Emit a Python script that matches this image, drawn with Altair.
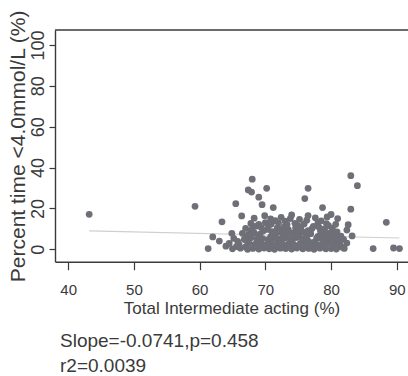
import altair as alt
import pandas as pd

# ---- data ----
x_vals = [
    # isolated / upper points
    43.2, 59.3, 61.3, 63.4, 62.0, 63.0, 64.0, 64.9, 65.5, 66.4, 67.4, 67.9, 68.0,
    69.0, 69.5, 70.2, 71.2, 76.0, 76.5, 76.5, 78.7, 80.0, 81.0, 83.0, 84.0, 83.0,
    82.6, 82.4, 83.2, 82.4, 86.4, 88.4, 89.5, 90.4, 74.0,
    # bottom row
    65.0, 66.2, 67.3, 68.1, 69.0, 69.8, 70.6, 71.4, 72.3, 73.1, 74.0, 74.8, 75.7,
    76.6, 77.4, 78.3, 79.2, 80.0, 80.8, 82.0,
    # row ~1.3
    65.6, 67.0, 68.6, 70.2, 71.8, 73.4, 75.0, 76.9, 78.6, 80.4, 81.6,
    # row ~2.5
    64.5, 66.0, 67.5, 68.4, 69.3, 70.1, 71.0, 71.9, 72.7, 73.6, 74.4, 75.3, 76.1,
    77.0, 77.9, 78.8, 79.6, 80.5, 81.3,
    # row ~3.8
    65.8, 67.2, 69.0, 70.7, 72.4, 74.1, 75.9, 77.5, 79.2, 80.9,
    # row ~5
    65.2, 66.8, 67.8, 68.7, 69.6, 70.4, 71.3, 72.1, 73.0, 73.9, 74.7, 75.6, 76.4,
    77.8, 78.6, 79.5, 80.3, 81.1, 81.9,
    # row ~6.3
    67.0, 68.9, 70.8, 72.8, 74.5, 76.2, 78.0, 79.9, 81.5,
    # row ~7.5
    66.5, 67.4, 68.3, 69.2, 71.6, 72.5, 73.4, 74.2, 75.1, 76.0, 76.9, 78.9, 79.8, 80.6,
    # row ~8.8
    67.8, 69.7, 71.0, 73.0, 74.9, 76.5, 78.4, 80.9,
    # row ~10
    67.0, 68.0, 69.4, 70.3, 71.8, 72.6, 73.5, 74.6, 75.4, 77.1, 78.2, 79.0, 80.2,
    # row ~11.3
    68.6, 70.5, 72.9, 75.0, 77.3, 79.6,
    # row ~12.5
    67.8, 69.0, 70.0, 70.9, 72.0, 73.3, 74.5, 75.9, 78.0, 79.3, 80.7,
    # row ~14
    71.5, 73.0, 76.3, 78.5,
    # row ~15
    68.3, 69.9, 70.8, 72.4, 73.8, 75.2, 77.6, 79.4,
]
y_vals = [
    17.1, 21.0, 0.3, 13.4, 6.0, 4.0, 1.5, 7.8, 22.3, 16.3, 29.0, 28.0, 34.3,
    25.5, 21.8, 29.8, 20.4, 24.8, 29.8, 16.5, 20.4, 17.0, 15.0, 36.0, 31.1, 19.6,
    12.0, 9.4, 6.5, 3.0, 0.3, 13.2, 0.6, 0.3, 16.8,
    0.2, 0.5, 0.0, 0.4, 0.1, 0.6, 0.2, 0.0, 0.5, 0.3, 0.1, 0.6, 0.2,
    0.4, 0.0, 0.5, 0.2, 0.3, 0.1, 0.4,
    1.3, 1.1, 1.5, 1.2, 1.4, 1.0, 1.3, 1.6, 1.2, 1.4, 1.1,
    2.8, 2.2, 3.0, 2.4, 2.9, 2.1, 2.6, 3.1, 2.3, 2.7, 2.0, 2.9, 2.5,
    3.2, 2.2, 2.6, 3.0, 2.4, 2.8,
    3.8, 4.0, 3.6, 3.9, 3.7, 4.1, 3.8, 3.5, 4.0, 3.7,
    5.3, 4.8, 5.6, 4.9, 5.2, 4.7, 5.5, 5.0, 5.4, 4.8, 5.7, 5.1, 4.6,
    5.3, 5.0, 5.6, 4.9, 5.2, 4.8,
    6.3, 6.5, 6.1, 6.4, 6.2, 6.6, 6.3, 6.0, 6.4,
    7.8, 7.2, 8.0, 7.4, 7.7, 8.1, 7.3, 7.9, 7.5, 8.2, 7.6, 7.4, 8.0, 7.7,
    8.8, 9.0, 8.6, 8.9, 8.7, 9.1, 8.8, 8.5,
    10.2, 9.8, 10.5, 9.7, 10.3, 10.0, 9.6, 10.4, 9.9, 10.1, 10.6, 9.8, 10.2,
    11.3, 11.5, 11.1, 11.4, 11.2, 11.6,
    12.6, 12.2, 13.0, 12.4, 12.8, 12.1, 12.7, 12.3, 12.9, 12.5, 12.2,
    14.0, 13.8, 14.2, 13.9,
    15.2, 16.4, 14.8, 15.6, 15.0, 14.6, 15.4, 15.8,
]
fit_x = [43.2, 90.4]
fit_y = [9.0, 5.5]
x_ticks = [40, 50, 60, 70, 80, 90]
y_ticks = [0, 20, 40, 60, 80, 100]
x_title = "Total Intermediate acting (%)"
y_title = "Percent time <4.0mmol/L (%)"
notes = ["Slope=-0.0741,p=0.458", "r2=0.0039"]

W, H = 353, 231.7
FONT = "Liberation Sans, Arial, sans-serif"
INK = "#3a3a3a"

pts = pd.DataFrame({"x": x_vals, "y": y_vals})
fit = pd.DataFrame({"x": fit_x, "y": fit_y})

xs = alt.Scale(domain=[38, 91.7], nice=False, zero=False)
ys = alt.Scale(domain=[-6.1, 107.3], nice=False, zero=False)

x_axis = alt.Axis(values=x_ticks, title=x_title, grid=False, domainColor=INK,
                  domainWidth=1.4, tickColor=INK, tickWidth=1.2, tickSize=8,
                  labelFont=FONT, labelFontSize=15, labelColor=INK, labelPadding=13,
                  titleFont=FONT, titleFontSize=17, titleColor=INK,
                  titleFontWeight="normal", titlePadding=3)
y_axis = alt.Axis(values=y_ticks, title=y_title, grid=False, domainColor=INK,
                  domainWidth=1.4, tickColor=INK, tickWidth=1.2, tickSize=6,
                  labelAngle=270, labelAlign="center", labelBaseline="bottom",
                  labelFont=FONT, labelFontSize=18, labelColor=INK, labelPadding=2,
                  titleFont=FONT, titleFontSize=21, titleColor=INK,
                  titleFontWeight="normal", titlePadding=1)

points = alt.Chart(pts).mark_circle(size=46, color="#6f6f78", opacity=1).encode(
    x=alt.X("x:Q", scale=xs, axis=x_axis),
    y=alt.Y("y:Q", scale=ys, axis=y_axis),
)
line = alt.Chart(fit).mark_line(color="#cfcfcf", strokeWidth=1.2).encode(
    x=alt.X("x:Q", scale=xs), y=alt.Y("y:Q", scale=ys)
)
top = alt.Chart(pd.DataFrame({"a": [0]})).mark_rule(color=INK, strokeWidth=1.4).encode(
    x=alt.value(0), x2=alt.value(W), y=alt.value(0)
)
t1 = alt.Chart(pd.DataFrame({"t": [notes[0]]})).mark_text(
    align="left", baseline="alphabetic", font=FONT, fontSize=19, color=INK
).encode(text="t:N", x=alt.value(5), y=alt.value(317))
t2 = alt.Chart(pd.DataFrame({"t": [notes[1]]})).mark_text(
    align="left", baseline="alphabetic", font=FONT, fontSize=19, color=INK
).encode(text="t:N", x=alt.value(5), y=alt.value(342))

chart = alt.layer(line, points, top, t1, t2).properties(
    width=W, height=H,
    padding={"left": 55, "top": 30, "right": 0, "bottom": 376 - 30 - H},
    autosize=alt.AutoSizeParams(type="none"),
    background="white",
).configure_view(stroke=None)

chart.save("out.html", embed_options={"renderer": "svg", "actions": False})
